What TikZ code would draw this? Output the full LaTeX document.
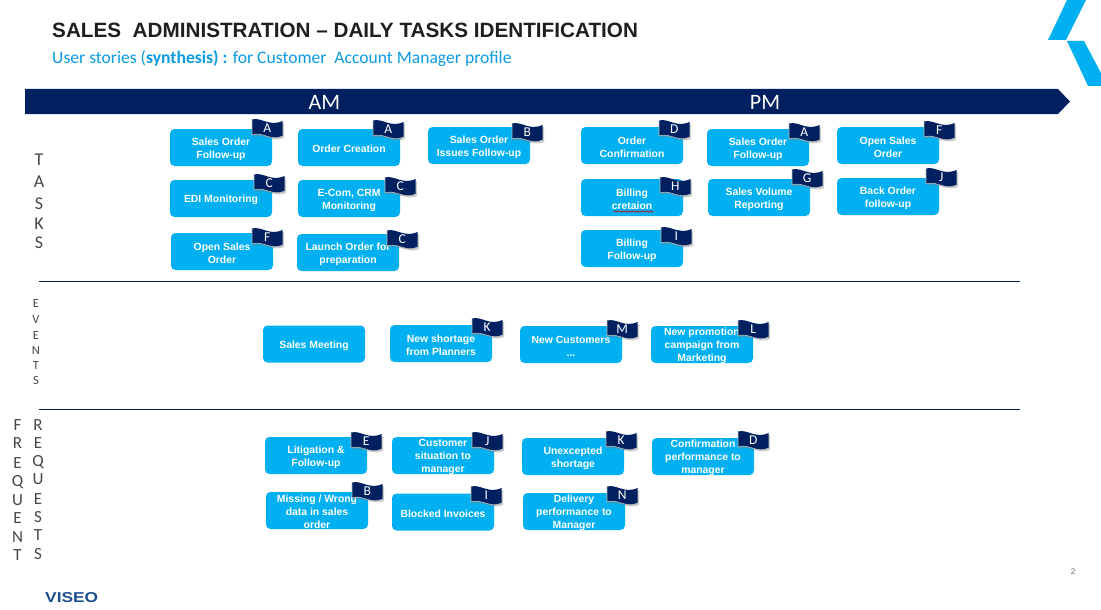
\documentclass[tikz,border=0pt]{standalone}
\usepackage{fontspec}
\setmainfont{Liberation Sans}
\newfontfamily\sidefont{Carlito}
\usetikzlibrary{decorations.pathmorphing}
\definecolor{navy}{HTML}{002060}
\definecolor{sky}{HTML}{00B0F0}
\definecolor{subblue}{HTML}{0A9BE0}
\definecolor{viseoblue}{HTML}{1B4F8F}
\tikzset{
  taskbox/.style={fill=sky,rounded corners=4.5pt,minimum width=102pt,minimum height=37pt,inner sep=0pt},
  tasklabel/.style={inner sep=0pt,align=center,text=white,font=\fontsize{10.4}{13}\selectfont\bfseries},
  flagfill/.style={fill=navy},
  flagedge/.style={draw=black!25,line width=.6pt},
  flagshade/.style={fill=black!50,opacity=.4},
  flagtext/.style={text=white,inner sep=0pt,font=\sidefont\fontsize{13.5}{13.5}\selectfont},
  sideletter/.style={text=black!72,inner sep=0pt,font=\sidefont\fontsize{#1}{#1}\selectfont},
  rule/.style={draw=navy,line width=.8pt},
  logopart/.style={fill=sky},
}
\newcommand\taskat[4]{%
  \node[taskbox] (#1) at (#2+51,#3+18.5) {};
  \node[tasklabel] (#1t) at (#2+51,#3+20) {#4};}
\newcommand\flagat[4]{%
  \begin{scope}[shift={(#2,#3)}]
    \path[flagshade] (1.5,2) .. controls (11,0) and (18,9) .. (32,4) -- (32,19) .. controls (21,24) and (11,14) .. (1.5,18) -- cycle;
    \path[flagfill] (0,.5) .. controls (10,-2) and (17,8) .. (30.5,2) -- (30.5,17) .. controls (20,23) and (10,12) .. (0,16) -- cycle;
    \path[flagedge] (30.5,17) .. controls (20,23) and (10,12) .. (0,16) -- (0,.5);
    \node[flagtext] (#1) at (15.2,9) {#4};
  \end{scope}}
\begin{document}
\begin{tikzpicture}[x=1pt,y=-1pt]
\useasboundingbox (0,0) rectangle (1101,610);
\fill[white] (0,0) rectangle (1101,610);
% header
\node[anchor=west,inner sep=0pt,text=black!88,font=\fontsize{20.7}{21}\selectfont\bfseries] (title) at (52,30) {SALES\ \ ADMINISTRATION – DAILY TASKS IDENTIFICATION};
\node[anchor=west,inner sep=0pt,text=subblue,font=\sidefont\fontsize{17.6}{18}\selectfont] (subtitle) at (52,58.5) {User stories (\textbf{synthesis) :} for Customer\ \ Account Manager profile};
% logo
\path[logopart] (1067,0) -- (1086,0) -- (1066,40) -- (1048,40) -- cycle;
\path[logopart] (1067,41) -- (1084,41) -- (1101,73) -- (1101,86) -- (1088,86) -- cycle;
% banner
\fill[navy] (25,89) -- (1058,89) -- (1070,101.5) -- (1058,114) -- (25,114) -- cycle;
\node[text=white,inner sep=0pt,font=\sidefont\fontsize{22}{22}\selectfont] (am) at (324.5,102) {AM};
\node[text=white,inner sep=0pt,font=\sidefont\fontsize{22}{22}\selectfont] (pm) at (765,102) {PM};
% rules
\coordinate (r1a) at (39,281); \coordinate (r1b) at (1020,281);
\coordinate (r2a) at (39,409.5); \coordinate (r2b) at (1020,409.5);
\draw[rule] (r1a) -- (r1b);
\draw[rule] (r2a) -- (r2b);
% side labels
\foreach \l/\y [count=\i] in {T/160,A/182,S/204,K/224,S/243} \node[sideletter=18] (ta\i) at (39,\y) {\l};
\foreach \l/\y [count=\i] in {E/303,V/319,E/335,N/350,T/365,S/380} \node[sideletter=12.5] (ev\i) at (36,\y) {\l};
\foreach \l/\y [count=\i] in {F/425,R/443,E/463,Q/482,U/500,E/518,N/537,T/555} \node[sideletter=17] (fr\i) at (17.5,\y) {\l};
\foreach \l/\y [count=\i] in {R/425,E/443,Q/462,U/479,E/499,S/517,T/535,S/554} \node[sideletter=17] (rq\i) at (38,\y) {\l};
% boxes AM
\taskat{b1}{170}{129}{Sales Order\\Follow-up}
\taskat{b2}{298}{129}{Order Creation}
\taskat{b3}{428}{127}{Sales Order\\Issues Follow-up}
\taskat{b4}{170}{180}{EDI Monitoring}
\taskat{b5}{298}{180}{E-Com, CRM\\Monitoring}
\taskat{b6}{171}{233}{Open Sales\\Order}
\taskat{b7}{297}{234}{Launch Order for\\preparation}
% boxes PM
\taskat{b8}{581}{127}{Order\\Confirmation}
\taskat{b9}{707}{129}{Sales Order\\Follow-up}
\taskat{b10}{837}{127}{Open Sales\\Order}
\taskat{b11}{581}{179}{Billing\\cretaion}
\taskat{b12}{708}{179}{Sales Volume\\Reporting}
\taskat{b13}{837}{178}{Back Order\\follow-up}
\taskat{b14}{581}{230}{Billing\\Follow-up}
\coordinate (sqa) at (613.5,211.5); \coordinate (sqb) at (653,211.5);
\draw[red!85!black,line width=.6pt,decorate,decoration={snake,amplitude=.7pt,segment length=3pt}] (sqa) -- (sqb);
% events
\taskat{b15}{263}{325.5}{Sales Meeting}
\taskat{b16}{390}{325}{New shortage\\from Planners}
\taskat{b17}{520}{326}{New Customers\\...}
\taskat{b18}{651}{326}{New promotion\\campaign from\\Marketing}
% requests
\taskat{b19}{265}{437}{Litigation \&\\Follow-up}
\taskat{b20}{392}{437}{Customer\\situation to\\manager}
\taskat{b21}{522}{438}{Unexcepted\\shortage}
\taskat{b22}{652}{438}{Confirmation\\performance to\\manager}
\taskat{b23}{266}{492}{Missing / Wrong\\data in sales\\order}
\taskat{b24}{392}{493.5}{Blocked Invoices}
\taskat{b25}{523}{493}{Delivery\\performance to\\Manager}
% flags
\flagat{f1}{252}{119}{A}
\flagat{f2}{373}{120}{A}
\flagat{f3}{512}{123}{B}
\flagat{f4}{254}{174}{C}
\flagat{f5}{385}{177}{C}
\flagat{f6}{252}{228}{F}
\flagat{f7}{387}{230}{C}
\flagat{f8}{659}{120}{D}
\flagat{f9}{789}{123}{A}
\flagat{f10}{924}{121}{F}
\flagat{f11}{660}{177}{H}
\flagat{f12}{792}{169}{G}
\flagat{f13}{926}{168}{J}
\flagat{f14}{661}{227}{I}
\flagat{f15}{472}{318}{K}
\flagat{f16}{607}{320}{M}
\flagat{f17}{738}{320}{L}
\flagat{f18}{351}{432}{E}
\flagat{f19}{472}{432}{J}
\flagat{f20}{606}{431}{K}
\flagat{f21}{738}{431}{D}
\flagat{f22}{352}{482}{B}
\flagat{f23}{471}{486}{I}
\flagat{f24}{607}{486}{N}
% footer
\node[text=black!60,inner sep=0pt,font=\fontsize{8}{8}\selectfont] (pageno) at (1073,572) {2};
\node[inner sep=0pt,text=viseoblue,anchor=west] (viseo) at (45,598) {\resizebox{53pt}{10pt}{\bfseries VISEO}};
\end{tikzpicture}
\end{document}
